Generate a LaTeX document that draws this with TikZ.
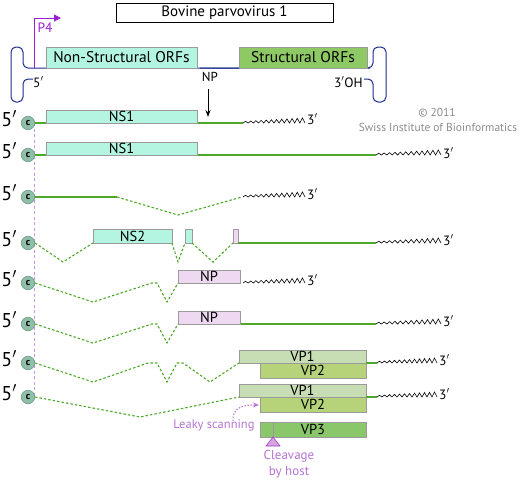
\documentclass[tikz,border=0pt]{standalone}
\usepackage{fontspec}
\setmainfont{PT Sans}
\usetikzlibrary{arrows.meta}
\definecolor{genome}{HTML}{1C2B8C}
\definecolor{nsfill}{HTML}{B3F5E0}
\definecolor{stfill}{HTML}{8FC965}
\definecolor{npfill}{HTML}{EFD9F2}
\definecolor{vpone}{HTML}{C7DDB3}
\definecolor{vptwo}{HTML}{B6D37A}
\definecolor{vpthree}{HTML}{8AC66A}
\definecolor{boxgrey}{HTML}{9A9A9A}
\definecolor{rnagreen}{HTML}{4FA82A}
\definecolor{capfill}{HTML}{8FBFA8}
\definecolor{capdraw}{HTML}{6B9A85}
\definecolor{pfour}{HTML}{9B1FD0}
\definecolor{lilac}{HTML}{B673D1}
\definecolor{lilacdash}{HTML}{C994E8}
\definecolor{trifill}{HTML}{D9A3E0}
\definecolor{copy}{HTML}{8C8C8C}
\newcommand{\orf}[7]{%
  \draw[box,fill=#2] (#3,#4) rectangle (#5,#6);
  \node[lbl] (#1) at ({(#3+#5)/2},{(#4+#6)/2}) {#7};}
\newcommand{\polya}[3]{%
  \draw[squig] (#1,#3) foreach \k in {1,...,24}{ -- ({#1+(#2-#1)*\k/24},{#3-mod(\k,2)*(1.6+3.6*\k/24)}) };}
\newcommand{\fivep}[1]{\node[anchor=base east,inner sep=0pt,font=\fontsize{20}{20}\selectfont] at (17,#1+3.5) {5$'$};}
\newcommand{\threep}[2]{\node[anchor=base west,inner sep=0pt,font=\fontsize{13.5}{13.5}\selectfont] at (#1+2,#2+3) {3$'$};}
\begin{document}
\begin{tikzpicture}[x=1pt,y=-1pt,
  box/.style={draw=boxgrey,line width=0.7pt},
  lbl/.style={inner sep=0pt,text height=10pt,text depth=0pt,font=\fontsize{14.5}{14.5}\selectfont},
  capnode/.style={circle,fill=capfill,draw=capdraw,line width=0.6pt,minimum size=13.5pt,inner sep=0pt,font=\bfseries\fontsize{10}{10}\selectfont},
  mrna/.style={draw=rnagreen,line width=1.1pt},
  intron/.style={draw=rnagreen,line width=1.1pt,dash pattern=on 2.5pt off 2pt},
  squig/.style={draw=black,line width=0.6pt}]
\useasboundingbox (0,0) rectangle (520,480);
% title
\node[draw,line width=0.8pt,minimum width=217pt,minimum height=19pt,inner sep=0pt,font=\fontsize{15}{15}\selectfont] (title) at (224.5,12.5) {Bovine parvovirus 1};
% genome
\draw[genome,line width=1pt,rounded corners=5pt] (370,68) -- (23,68) -- (23,47) -- (11,47) -- (11,102) -- (23,102) -- (23,79) -- (33,79);
\draw[genome,line width=1pt,rounded corners=5pt] (200,68) -- (373,68) -- (373,47) -- (386,47) -- (386,102) -- (373,102) -- (373,79) -- (364,79);
\orf{nsorf}{nsfill}{46}{47}{197}{68}{\fontsize{15.5}{15.5}\selectfont Non-Structural ORFs}
\orf{storf}{stfill}{239}{47}{367}{68}{\fontsize{15.5}{15.5}\selectfont Structural ORFs}
\node[anchor=base west,inner sep=0pt,font=\fontsize{13.5}{13.5}\selectfont] (g5) at (33,87) {5$'$};
\node[anchor=base east,inner sep=0pt,font=\fontsize{13.5}{13.5}\selectfont] (g3) at (363,87) {3$'$OH};
% P4 promoter
\coordinate (p4a) at (34,68);
\coordinate (p4b) at (34,18);
\coordinate (p4c) at (61,18);
\draw[pfour,line width=1pt,-{Triangle[length=7pt,width=7pt]}] (p4a) -- (p4b) -- (p4c);
\node[pfour,inner sep=0pt,font=\fontsize{13.5}{13.5}\selectfont] (p4) at (45,28) {P4};
% NP arrow
\node[inner sep=0pt,font=\fontsize{13}{13}\selectfont] (nplab) at (210,77) {NP};
\coordinate (npa) at (208,89);
\coordinate (npb) at (208,117);
\draw[line width=1pt,-{Stealth[length=7pt,width=5pt]}] (npa) -- (npb);
% copyright
\node[copy,inner sep=0pt,font=\fontsize{11.5}{11.5}\selectfont] (copy1) at (437,113) {© 2011};
\node[copy,inner sep=0pt,font=\fontsize{11.5}{11.5}\selectfont] (copy2) at (438,127) {Swiss Institute of Bioinformatics};
% dashed vertical line
\draw[lilacdash,line width=0.9pt,dash pattern=on 3pt off 2.5pt] (34.5,123) -- (34.5,397);
% Row 1
\draw[mrna] (35,123) -- (243,123);
\orf{nsa}{nsfill}{46}{110}{197}{123}{NS1}
\polya{243}{305}{123}\threep{305}{121}
% Row 2
\draw[mrna] (35,155) -- (376,155);
\orf{nsb}{nsfill}{46}{142}{197}{155}{NS1}
\polya{376}{441}{155}\threep{441}{155}
% Row 3
\draw[mrna] (35,197) -- (117,197);
\draw[intron] (117,197) -- (178,215) -- (242,197);
\polya{243}{305}{197}\threep{305}{196}
% Row 4
\draw[intron] (35,243) -- (63,262) -- (93,243);
\orf{nsc}{nsfill}{93}{229}{172}{243}{NS2}
\draw[intron] (172,243) -- (178,262) -- (185,243);
\draw[box,fill=nsfill] (185,229) rectangle (192,243);
\draw[intron] (192,243) -- (213,262) -- (233,243);
\draw[box,fill=npfill] (233,229) rectangle (238,243);
\draw[mrna] (238,243) -- (376,243);
\polya{376}{441}{243}\threep{441}{242}
% Row 5
\draw[intron] (35,283) -- (93,302) -- (152,283) -- (157,283) -- (167,302) -- (178,283);
\orf{npa5}{npfill}{178}{270}{240}{283}{NP}
\polya{243}{305}{283}\threep{305}{282}
% Row 6
\draw[intron] (35,324) -- (93,343) -- (152,324) -- (157,324) -- (167,343) -- (178,324);
\draw[mrna] (240,324) -- (376,324);
\orf{npb6}{npfill}{178}{311}{240}{324}{NP}
\polya{376}{441}{324}\threep{441}{323}
% Row 7
\draw[intron] (35,363) -- (93,382) -- (148,363) -- (157,363) -- (167,382) -- (177,363) -- (183,363) -- (210,382) -- (239,363);
\orf{vp1a}{vpone}{239}{350}{366}{363}{VP1}
\orf{vp2a}{vptwo}{260}{363}{366}{378}{VP2}
\draw[mrna] (366,363) -- (377,363);
\polya{377}{437}{363}\threep{437}{362}
% Row 8
\draw[intron] (35,397) -- (140,417) -- (239,397);
\orf{vp1b}{vpone}{239}{384}{366}{397}{VP1}
\orf{vp2b}{vptwo}{260}{397}{366}{412}{VP2}
\draw[mrna] (366,397) -- (377,397);
\polya{377}{437}{397}\threep{437}{396}
% caps and 5' labels
\foreach \yy/\nm in {123/c1,155/c2,197/c3,243/c4,283/c5,324/c6,363/c7,397/c8}{
  \node[capnode] (\nm) at (28,\yy) {c};
  \fivep{\yy}
}
% leaky scanning
\coordinate (lk1) at (233,421);
\coordinate (lk2) at (259,405);
\draw[lilac,line width=1pt,dash pattern=on 1.5pt off 1.5pt,-{Stealth[length=6pt,width=5pt]}] (lk1) .. controls (232,407) and (244,405) .. (lk2);
\node[lilac,inner sep=0pt,font=\fontsize{12.5}{12.5}\selectfont] (leaky) at (214,425) {Leaky scanning};
% VP3
\orf{vp3}{vpthree}{260}{422}{366}{437}{VP3}
\draw[boxgrey,line width=0.8pt] (273,422) -- (273,437);
\draw[pfour!70!lilac,fill=trifill,line width=0.6pt] (273,437) -- (266,446) -- (280,446) -- cycle;
\node[lilac,inner sep=0pt,align=center,font=\fontsize{13}{15.5}\selectfont] (cleave) at (289,464) {Cleavage\\by host};
\end{tikzpicture}
\end{document}
